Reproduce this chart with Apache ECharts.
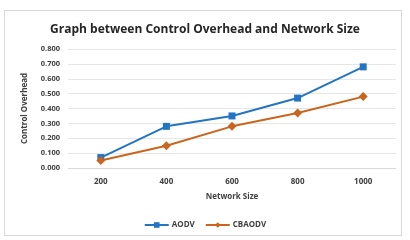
<!DOCTYPE html>
<html><head><meta charset="utf-8">
<script src="https://cdn.jsdelivr.net/npm/echarts@6/dist/echarts.min.js"></script>
<style>html,body{margin:0;padding:0;background:#fff}#box{position:absolute;left:4px;top:10px;width:398px;height:226px;border:1px solid #d9d9d9;box-sizing:border-box}#c{width:410px;height:240px}</style>
</head><body><div id="box"></div><div id="c"></div>
<script>
const categories = ['200', '400', '600', '800', '1000'];
const aodv = [0.07, 0.28, 0.35, 0.47, 0.68];
const cbaodv = [0.05, 0.15, 0.28, 0.37, 0.48];
const yTicks = { min: 0, max: 0.8, interval: 0.1 };
const F = 'Open Sans';
const chart = echarts.init(document.getElementById('c'));
chart.setOption({
  animation: false,
  title: { text: 'Graph between Control Overhead and Network Size', left: 'center', top: 19,
    textStyle: { fontFamily: F, fontWeight: 'bold', fontSize: 12, color: '#262626' } },
  grid: { left: 68, right: 14, top: 49, bottom: 72, containLabel: false },
  legend: { bottom: 6, left: 'center', itemWidth: 24, itemHeight: 7, itemGap: 10,
    textStyle: { fontFamily: F, fontSize: 8, fontWeight: 'bold', color: '#404040', padding: [0, 0, 0, -2] },
    data: ['AODV', 'CBAODV'] },
  xAxis: { type: 'category', data: categories, boundaryGap: true,
    name: 'Network Size', nameLocation: 'middle', nameGap: 25,
    nameTextStyle: { fontFamily: F, fontSize: 8, fontWeight: 'bold', color: '#404040' },
    axisLine: { lineStyle: { color: '#d9d9d9' } }, axisTick: { show: false },
    axisLabel: { fontFamily: F, fontSize: 8, fontWeight: 'bold', color: '#404040', margin: 10 } },
  yAxis: { type: 'value', min: yTicks.min, max: yTicks.max, interval: yTicks.interval,
    name: 'Control Overhead', nameLocation: 'middle', nameGap: 39, nameRotate: 90,
    nameTextStyle: { fontFamily: F, fontSize: 8, fontWeight: 'bold', color: '#404040' },
    axisLine: { show: false }, axisTick: { show: false },
    splitLine: { lineStyle: { color: '#e6e6e6' } },
    axisLabel: { fontFamily: F, fontSize: 7.5, fontWeight: 'bold', color: '#404040', margin: 8,
      formatter: v => v.toFixed(3) } },
  series: [
    { name: 'AODV', type: 'line', data: aodv, symbol: 'rect', symbolSize: 7,
      color: '#2474c4', lineStyle: { width: 2, color: '#2474c4' }, itemStyle: { color: '#2474c4' } },
    { name: 'CBAODV', type: 'line', data: cbaodv, symbol: 'diamond', symbolSize: 9,
      color: '#c8651e', lineStyle: { width: 2, color: '#c8651e' }, itemStyle: { color: '#c8651e' } }
  ]
});
</script></body></html>
